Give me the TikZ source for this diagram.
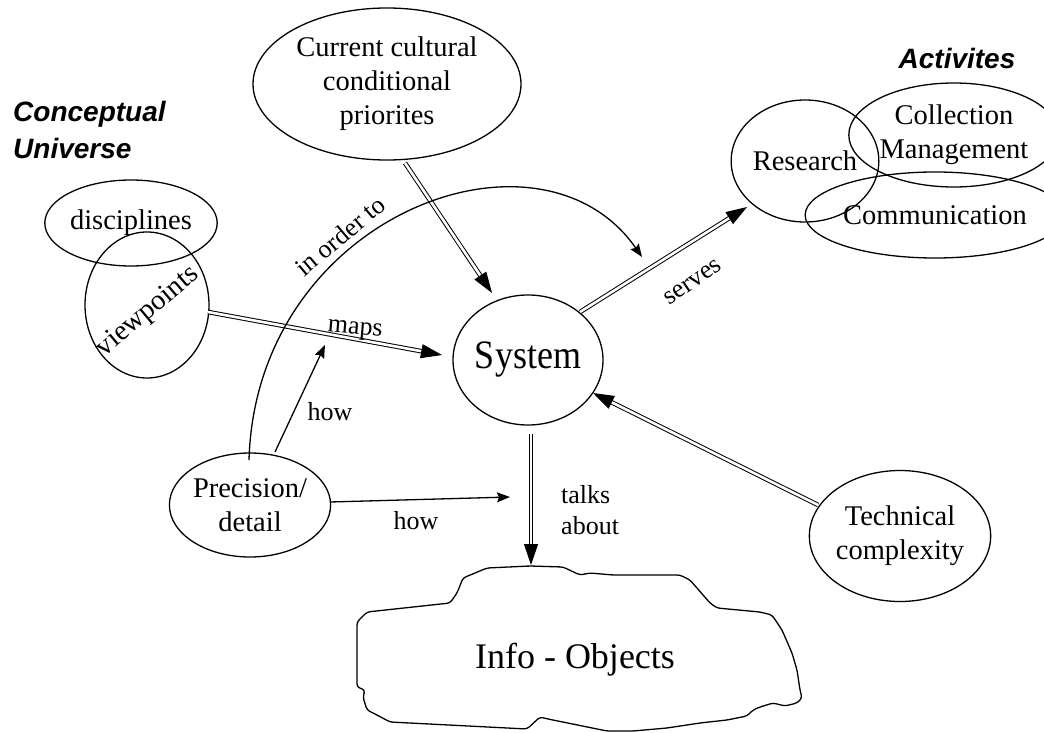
\documentclass[tikz,border=0pt]{standalone}
\usepackage{fontspec}
\usepackage{graphicx}
\setmainfont{Liberation Serif}
\newfontfamily\arialfont{Liberation Sans}
\usetikzlibrary{shapes.geometric,arrows.meta,calc}
\tikzset{
 ell/.style={draw, ellipse, line width=1.3pt, inner sep=0pt, align=center, font=\fontsize{28.5}{34}\selectfont},
 elab/.style={font=\fontsize{26}{31}\selectfont, inner sep=0pt},
 dblline/.style={draw, double, double distance=2.6pt, line width=1pt},
 bigtip/.style={-{Triangle[length=21pt,width=14pt]}, line width=1pt},
 arrone/.style={line width=1.3pt, -{Stealth[length=13pt,width=10pt,inset=2pt]}},
 titletext/.style={font=\arialfont\bfseries\itshape\fontsize{28}{34}\selectfont, inner sep=0pt},
 bigtext/.style={font=\fontsize{36}{40}\selectfont, inner sep=0pt},
}
\newcommand\dblarrow[2]{\draw[dblline, shorten >=17pt] (#1) -- (#2); \draw[bigtip] ($(#2)!20pt!(#1)$) -- (#2);}
\begin{document}
\begin{tikzpicture}[x=1pt,y=-1pt]
\useasboundingbox (0,0) rectangle (1044,733);
% titles
\node[titletext, anchor=base west] (cu1) at (13,122) {Conceptual};
\node[titletext, anchor=base west] (cu2) at (13,158) {Universe};
\node[titletext, anchor=base] (act) at (957,69) {Activites};
% ellipses
\node[ell, minimum width=268pt, minimum height=152pt] (cur) at (387,84) {Current cultural\\conditional\\priorites};
\node[ell, minimum width=164pt, minimum height=86pt] (disc) at (131,223) {disciplines};
\node[ell, minimum width=124pt, minimum height=146pt] (vp) at (147,305) {};
\node[font=\fontsize{28.5}{34}\selectfont, inner sep=0pt, rotate=40] (vpt) at (148,312) {viewpoints};
\node[ell, minimum width=134pt, minimum height=122pt] (res) at (805,161) {Research};
\node[ell, minimum width=176pt, minimum height=104pt] (coll) at (954,135) {Collection\\Management};
\node[ell, minimum width=216pt, minimum height=86pt] (comm) at (935,215) {Communication};
\node[ell, minimum width=150pt, minimum height=130pt, font=\fontsize{36}{40}\selectfont] (sys) at (528,360) {\scalebox{1}[1.12]{System}};
\node[ell, minimum width=146pt, minimum height=104pt] (prec) at (250,505) {Precision/\\detail};
\node[ell, minimum width=166pt, minimum height=131pt] (tech) at (900,536) {Technical\\complexity};
% cloud
\draw[line width=1.3pt, rounded corners=3pt] (463,578) -- (487,568) -- (530,566) -- (563,567) -- (580,575) -- (590,573) -- (613,575) -- (680,575) -- (690,580) -- (710,603) -- (717,608) -- (760,612) -- (772,615) -- (782,630) -- (792,653) -- (797,670) -- (800,690) -- (802,698) -- (797,703) -- (785,706) -- (773,703) -- (760,707) -- (753,710) -- (747,716) -- (727,720) -- (700,723) -- (667,728) -- (633,731) -- (607,731) -- (548,719) -- (540,717) -- (527,729) -- (390,722) -- (377,715) -- (367,710) -- (363,697) -- (365,690) -- (357,687) -- (357,622) -- (367,612) -- (450,603) -- (457,593) -- cycle;
\node[bigtext] (info) at (575,660) {Info - Objects};
% connector end points
\coordinate (c1s) at (405,163); \coordinate (c1e) at (492,293);
\coordinate (vps) at (208,312); \coordinate (vpe) at (442,355);
\coordinate (svs) at (580,312); \coordinate (sve) at (747,207);
\coordinate (tcs) at (818,505); \coordinate (tce) at (593,393);
\coordinate (tas) at (531,434); \coordinate (tae) at (531,565);
\coordinate (h1s) at (275,452); \coordinate (h1e) at (325,345);
\coordinate (h2s) at (330,502); \coordinate (h2e) at (510,497);
\coordinate (ios) at (249,460); \coordinate (ioe) at (642,257);
% double arrows
\dblarrow{c1s}{c1e}
\dblarrow{vps}{vpe}
\dblarrow{svs}{sve}
\dblarrow{tcs}{tce}
\dblarrow{tas}{tae}
% single arrows
\draw[arrone] (h1s) -- (h1e);
\draw[arrone] (h2s) -- (h2e);
\draw[arrone] (ios) .. controls (256,215) and (540,110) .. (ioe);
% labels
\node[elab, rotate=40] (lio) at (340,236) {in order to};
\node[elab, rotate=-5] (lmaps) at (355,331) {maps};
\node[elab] (lhow1) at (330,412) {how};
\node[elab] (lhow2) at (416,521) {how};
\node[elab, anchor=west, align=left] (ltalk) at (561,510) {talks\\about};
\node[elab, rotate=34] (lserves) at (693,282) {serves};
\end{tikzpicture}
\end{document}
